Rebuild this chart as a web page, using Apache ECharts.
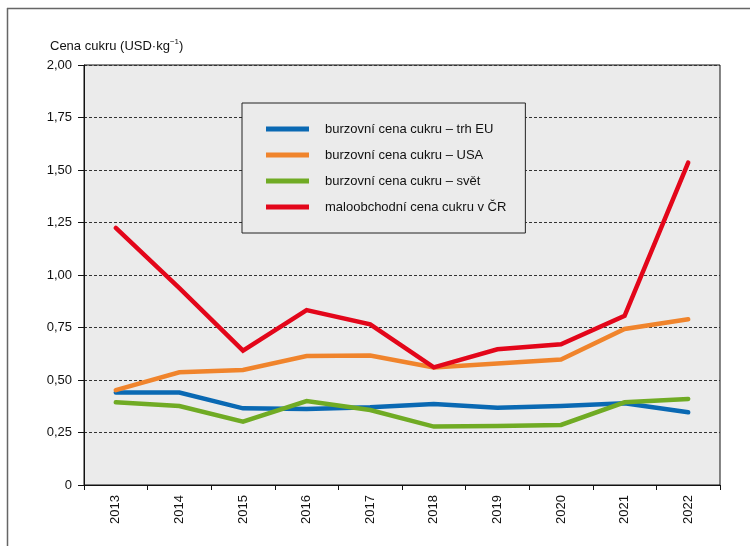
<!DOCTYPE html>
<html>
<head>
<meta charset="utf-8">
<script src="https://cdn.jsdelivr.net/npm/echarts@6/dist/echarts.min.js"></script>
<style>html,body{margin:0;padding:0;background:#fff}#c{width:750px;height:546px}</style>
</head>
<body>
<div id="c"></div>
<script>
const years = ['2013','2014','2015','2016','2017','2018','2019','2020','2021','2022'];
const seriesNames = ['burzovní cena cukru – trh EU','burzovní cena cukru – USA','burzovní cena cukru – svět','maloobchodní cena cukru v ČR'];
const euValues    = [0.44, 0.44, 0.365, 0.362, 0.37, 0.386, 0.368, 0.376, 0.389, 0.346];
const usaValues   = [0.452, 0.537, 0.548, 0.614, 0.617, 0.56, 0.579, 0.598, 0.743, 0.789];
const worldValues = [0.394, 0.376, 0.302, 0.40, 0.357, 0.278, 0.281, 0.286, 0.394, 0.41];
const czValues    = [1.224, 0.938, 0.64, 0.833, 0.765, 0.56, 0.646, 0.67, 0.806, 1.535];
const colors = ['#0a69b3', '#f0842c', '#70ab24', '#e3061a'];
const FONT = 'Liberation Sans, Arial, sans-serif';

const chart = echarts.init(document.getElementById('c'), null, {renderer: 'canvas'});
const allValues = [euValues, usaValues, worldValues, czValues];
chart.setOption({
  animation: false,
  backgroundColor: '#fff',
  textStyle: {fontFamily: FONT},
  title: {
    text: 'Cena cukru (USD·kg{sup|−1})',
    left: 50, top: 38, padding: 0,
    textStyle: {
      fontFamily: FONT, fontSize: 13, fontWeight: 'normal', color: '#111',
      rich: {sup: {fontFamily: FONT, fontSize: 8, verticalAlign: 'top', padding: [0,0,8,0], color: '#111'}}
    }
  },
  graphic: [
    {type: 'line', shape: {x1: 7, y1: 8.5, x2: 750, y2: 8.5}, style: {stroke: '#666', lineWidth: 1.5}},
    {type: 'line', shape: {x1: 7.5, y1: 8, x2: 7.5, y2: 546}, style: {stroke: '#666', lineWidth: 1.5}}
  ],
  legend: {
    orient: 'vertical',
    left: 242, top: 103,
    padding: [18, 19, 18, 24],
    backgroundColor: '#ebebeb',
    borderColor: '#222', borderWidth: 1,
    itemWidth: 43, itemHeight: 5, itemGap: 10,
    icon: 'rect',
    textStyle: {fontFamily: FONT, fontSize: 13, color: '#111', lineHeight: 16, padding: [0,0,0,11]},
    data: seriesNames
  },
  grid: {
    left: 84, right: 30, top: 65, bottom: 61,
    show: true, backgroundColor: '#ebebeb', borderColor: '#111', borderWidth: 1
  },
  xAxis: {
    type: 'category', data: years, boundaryGap: true,
    axisLine: {lineStyle: {color: '#111', width: 1}},
    axisTick: {show: true, length: 5, lineStyle: {color: '#111'}},
    axisLabel: {rotate: 90, margin: 10, fontFamily: FONT, fontSize: 13, color: '#111'}
  },
  yAxis: {
    type: 'value', min: 0, max: 2, interval: 0.25,
    axisLine: {show: true, lineStyle: {color: '#111', width: 1}},
    axisTick: {show: true, length: 6, lineStyle: {color: '#111'}},
    splitLine: {show: true, lineStyle: {color: '#333', type: [3, 2], width: 1}},
    axisLabel: {
      margin: 12, fontFamily: FONT, fontSize: 13, color: '#111',
      formatter: v => v === 0 ? '0' : v.toFixed(2).replace('.', ',')
    }
  },
  series: seriesNames.map((n, i) => ({
    name: n, type: 'line', data: allValues[i],
    symbol: 'none', color: colors[i],
    lineStyle: {width: 4.5, color: colors[i], cap: 'round', join: 'miter'},
    z: 2 + i
  }))
});
</script>
</body>
</html>
